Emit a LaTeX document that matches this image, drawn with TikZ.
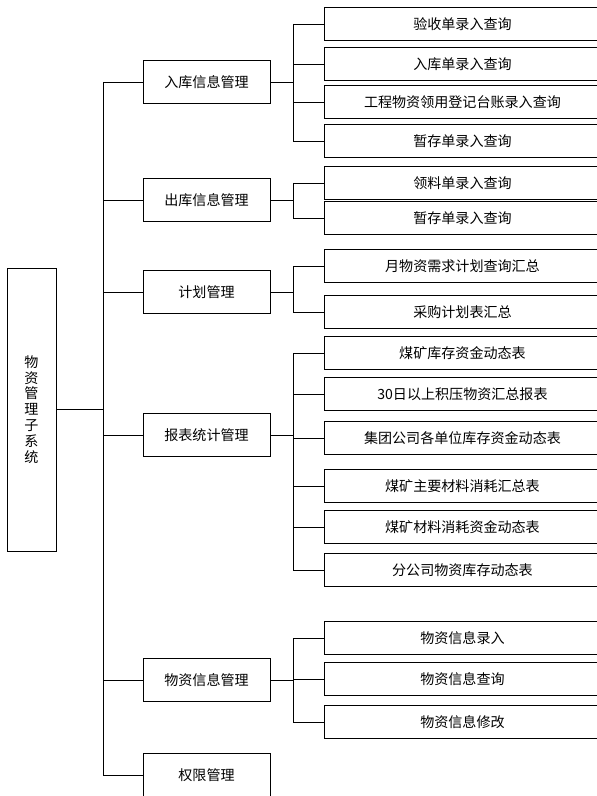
\documentclass[tikz,border=0pt]{standalone}
\usepackage{fontspec}
\newfontfamily\cjk{Noto Sans CJK SC}
\tikzset{
rootbox/.style={
       draw=black,
       line width=0.8pt,
       minimum width=1.47cm,
       minimum height=8.49cm,
       inner sep=0pt,
       align=center,
       font=\cjk\fontsize{12}{13.6}\selectfont,
       },
modbox/.style={
       draw=black,
       line width=0.8pt,
       minimum width=3.81cm,
       minimum height=1.29cm,
       inner sep=0pt,
       font=\cjk\fontsize{12}{14}\selectfont,
       },
leafbox/.style={
       draw=black,
       line width=0.8pt,
       minimum width=8.28cm,
       minimum height=1.0cm,
       inner sep=0pt,
       anchor=west,
       font=\cjk\fontsize{12}{14}\selectfont,
       },
link/.style={line width=0.8pt}
}

\begin{document}
\begin{tikzpicture}[x=0.03cm, y=-0.03cm]
      \useasboundingbox (0,0) rectangle (596,796);
      \coordinate (busA) at (103,0);
      \coordinate (busB) at (293,0);

      \node [rootbox] (root) at (31.5,409.5) {物\\资\\管\\理\\子\\系\\统};

      % second level
      \foreach \n/\y/\l in {
                in/82/入库信息管理,
                out/200/出库信息管理,
                plan/292/计划管理,
                stat/435/报表统计管理,
                item/680/物资信息管理,
                perm/775/权限管理
            } {
                \node [modbox] (\n) at (206.5,\y) {\l};
                \draw[link] (busA |- \n.west) -- (\n.west);
            }
      \draw[link] (root.east) -- (root.east -| busA);
      \draw[link] (busA |- in.west) -- (busA |- perm.west);

      % leaves
      \foreach \n/\y/\l in {
                in1/24/验收单录入查询,
                in2/64/入库单录入查询,
                in3/102/工程物资领用登记台账录入查询,
                in4/141/暂存单录入查询,
                out1/183/领料单录入查询,
                out2/218/暂存单录入查询,
                plan1/266/月物资需求计划查询汇总,
                plan2/312/采购计划表汇总,
                stat1/353/煤矿库存资金动态表,
                stat2/394/30日以上积压物资汇总报表,
                stat3/438/集团公司各单位库存资金动态表,
                stat4/486/煤矿主要材料消耗汇总表,
                stat5/527/煤矿材料消耗资金动态表,
                stat6/570/分公司物资库存动态表,
                item1/638/物资信息录入,
                item2/679/物资信息查询,
                item3/722/物资信息修改
            } {
                \node [leafbox] (\n) at (324,\y) {\l};
                \draw[link] (busB |- \n.west) -- (\n.west);
            }

      % branch buses
      \foreach \m/\a/\b in {in/in1/in4, out/out1/out2, plan/plan1/plan2, stat/stat1/stat6, item/item1/item3} {
                \draw[link] (\m.east) -- (\m.east -| busB);
                \draw[link] (busB |- \a.west) -- (busB |- \b.west);
            }
\end{tikzpicture}
\end{document}
